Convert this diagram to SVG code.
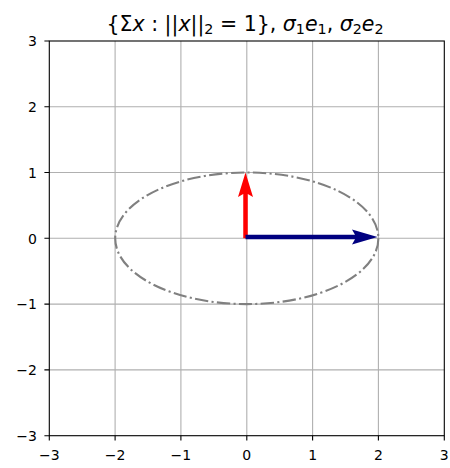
<svg xmlns="http://www.w3.org/2000/svg" width="450" height="468" viewBox="0 0 450 468">
<style>
.grid{stroke:#b0b0b0;stroke-width:1.1;fill:none}
.spine{stroke:#000;stroke-width:1.1;fill:none;stroke-linecap:square}
.tick{stroke:#000;stroke-width:1.1}
.tl{font-family:"DejaVu Sans",sans-serif;font-size:14px;fill:#000}
.title{font-family:"DejaVu Sans",sans-serif;font-size:20.5px;fill:#000}
.it{font-style:italic}
.sub{font-size:14.3px}
</style>
<rect width="450" height="468" fill="#fff"/>
<g id="grid">
<path class="grid" d="M115.1 41V435.7M180.9 41V435.7M246.8 41V435.7M312.6 41V435.7M378.4 41V435.7M49.3 106.8H444.3M49.3 172.5H444.3M49.3 238.3H444.3M49.3 304.1H444.3M49.3 369.9H444.3"/>
</g>
<g id="ellipse">
<ellipse cx="246.8" cy="238.3" rx="131.6" ry="65.8" fill="none" stroke="#808080" stroke-width="2.1" stroke-dasharray="13.3 3.3 2.1 3.3"/>
</g>
<g id="connectors">
<polygon id="sigma2e2" fill="#ff0000" points="243.25,238.3 243.25,194 238,197 245.5,172.5 253,197 247.75,194 247.75,238.3"/>
<polygon id="sigma1e1" fill="#000080" points="245.5,234.75 355,234.75 352,229.5 377.5,237 352,244.5 355,239.25 245.5,239.25"/>
</g>
<g id="axes">
<rect class="spine" x="49.3" y="41" width="395" height="394.7"/>
<path class="tick" d="M49.3 435.7v4.9M115.1 435.7v4.9M180.9 435.7v4.9M246.8 435.7v4.9M312.6 435.7v4.9M378.4 435.7v4.9M444.3 435.7v4.9M49.3 41h-4.9M49.3 106.8h-4.9M49.3 172.5h-4.9M49.3 238.3h-4.9M49.3 304.1h-4.9M49.3 369.9h-4.9M49.3 435.7h-4.9"/>
<g class="tl" text-anchor="middle">
<text x="49.3" y="460">−3</text>
<text x="115.1" y="460">−2</text>
<text x="180.9" y="460">−1</text>
<text x="246.8" y="460">0</text>
<text x="312.6" y="460">1</text>
<text x="378.4" y="460">2</text>
<text x="444.3" y="460">3</text>
</g>
<g class="tl" text-anchor="end">
<text x="37" y="46.2">3</text>
<text x="37" y="112">2</text>
<text x="37" y="177.7">1</text>
<text x="37" y="243.5">0</text>
<text x="37" y="309.3">−1</text>
<text x="37" y="375.1">−2</text>
<text x="37" y="440.9">−3</text>
</g>
</g>
<g id="title">
<text class="title" x="245" y="30.5" text-anchor="middle">{Σ<tspan class="it">x</tspan> : ||<tspan class="it">x</tspan>||<tspan class="sub" dy="3.3">2</tspan><tspan dy="-3.3"> = 1}, </tspan><tspan class="it">σ</tspan><tspan class="sub" dy="3.3">1</tspan><tspan class="it" dy="-3.3">e</tspan><tspan class="sub" dy="3.3">1</tspan><tspan dy="-3.3">, </tspan><tspan class="it">σ</tspan><tspan class="sub" dy="3.3">2</tspan><tspan class="it" dy="-3.3">e</tspan><tspan class="sub" dy="3.3">2</tspan></text>
</g>
</svg>
